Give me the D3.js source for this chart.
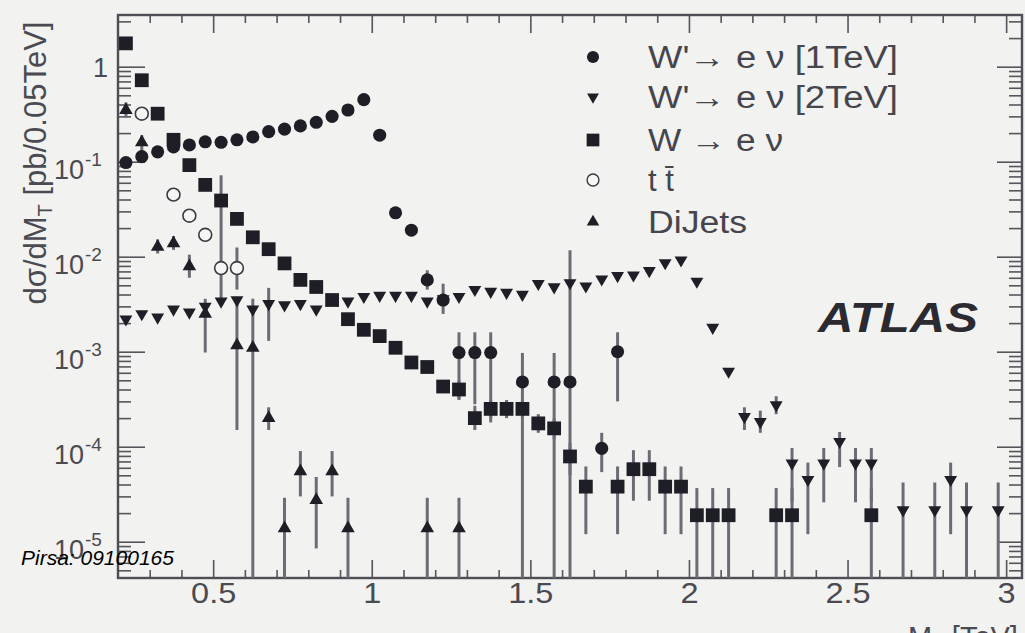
<!DOCTYPE html>
<html>
<head>
<meta charset="utf-8">
<script src="https://cdn.jsdelivr.net/npm/d3@7"></script>
<style>
  html, body { margin: 0; padding: 0; background: #f2f2f0; }
  svg { display: block; font-family: "Liberation Sans", Arial, sans-serif; }
</style>
</head>
<body>
<svg id="chart" width="1025" height="633"></svg>
<script>
// each point: [M_T in TeV, dsigma/dM_T, error low, error high]
// error low 0 means the bar runs down to the bottom of the frame
const wprime1 = [
  [0.225, 0.098], [0.275, 0.113], [0.325, 0.127], [0.375, 0.143], [0.425, 0.150],
  [0.475, 0.162], [0.525, 0.160], [0.575, 0.170], [0.625, 0.182], [0.675, 0.207],
  [0.725, 0.220], [0.775, 0.238], [0.825, 0.260], [0.875, 0.300], [0.925, 0.350],
  [0.975, 0.450], [1.025, 0.190], [1.075, 0.029], [1.125, 0.019],
  [1.175, 0.0057, 0.0045, 0.0072], [1.225, 0.0035, 0.0025, 0.0052],
  [1.275, 0.00098, 0.00031, 0.0016], [1.325, 0.00098, 0.00028, 0.0016], [1.375, 0.00098, 0.00018, 0.0016],
  [1.475, 0.00048, 0, 0.00097], [1.575, 0.00048, 0, 0.00097], [1.625, 0.00048, 0, 0.0117],
  [1.725, 0.000096, 0.000054, 0.00014], [1.775, 0.0010, 0.0003, 0.0016]
];

const wprime2 = [
  [0.225, 0.0022], [0.275, 0.0025], [0.325, 0.0023], [0.375, 0.0028], [0.425, 0.0026],
  [0.475, 0.0030], [0.525, 0.0034], [0.575, 0.0035], [0.625, 0.0028], [0.675, 0.0032, 0.0013, 0.0047],
  [0.725, 0.0031], [0.775, 0.0032], [0.825, 0.0028], [0.875, 0.00365], [0.925, 0.0034],
  [0.975, 0.0038], [1.025, 0.0039], [1.075, 0.0039], [1.125, 0.0039], [1.175, 0.0034],
  [1.225, 0.0036], [1.275, 0.0038], [1.325, 0.0045], [1.375, 0.0043], [1.425, 0.0042],
  [1.475, 0.0040], [1.525, 0.0052], [1.575, 0.0048], [1.625, 0.0053], [1.675, 0.0049],
  [1.725, 0.0058], [1.775, 0.0063], [1.825, 0.0064], [1.875, 0.0071], [1.925, 0.0086],
  [1.975, 0.0092], [2.025, 0.0055], [2.075, 0.0018], [2.125, 0.00062],
  [2.175, 0.000207, 0.00015, 0.00026], [2.225, 0.000183, 0.00014, 0.00024], [2.275, 0.000275, 0.00022, 0.00034],
  [2.325, 0.000067, 0.000026, 0.000097], [2.375, 0.000045, 0.000012, 0.000068],
  [2.425, 0.000067, 0.000026, 0.000097], [2.475, 0.000113, 0.000061, 0.000143],
  [2.525, 0.000067, 0.000026, 0.000097], [2.575, 0.000067, 0.000026, 0.000097],
  [2.675, 0.0000216, 0, 0.000042], [2.775, 0.0000216, 0, 0.000042],
  [2.825, 0.000045, 0.000012, 0.000068], [2.875, 0.0000216, 0, 0.000042],
  [2.975, 0.0000216, 0, 0.000042]
];

const wenu = [
  [0.225, 1.76], [0.275, 0.72], [0.325, 0.32], [0.375, 0.17], [0.425, 0.092],
  [0.475, 0.057], [0.525, 0.039], [0.575, 0.025], [0.625, 0.016], [0.675, 0.012],
  [0.725, 0.0085], [0.775, 0.0057], [0.825, 0.0048], [0.875, 0.0035], [0.925, 0.0022],
  [0.975, 0.0017], [1.025, 0.00146], [1.075, 0.0011], [1.125, 0.00077], [1.175, 0.00069],
  [1.225, 0.00043], [1.275, 0.00040, 0.00032, 0.0005], [1.325, 0.00020, 0.00015, 0.00027],
  [1.375, 0.00025, 0.0002, 0.00031], [1.425, 0.00025, 0.0002, 0.00031], [1.475, 0.00025, 0.0002, 0.00031],
  [1.525, 0.000176, 0.00014, 0.00022], [1.575, 0.000156, 0.00012, 0.0002], [1.625, 0.000079, 0.00005, 0.00011],
  [1.675, 0.000038, 0.000012, 0.000062], [1.775, 0.000038, 0.000012, 0.000062],
  [1.825, 0.000058, 0.000027, 0.000092], [1.875, 0.000058, 0.000027, 0.000092],
  [1.925, 0.000038, 0.000012, 0.000062], [1.975, 0.000038, 0.000012, 0.000062],
  [2.025, 0.000019, 0, 0.0000367], [2.075, 0.000019, 0, 0.0000367], [2.125, 0.000019, 0, 0.0000367],
  [2.275, 0.000019, 0, 0.0000367], [2.325, 0.000019, 0, 0.0000367], [2.575, 0.000019, 0, 0.0000367]
];

const ttbar = [
  [0.275, 0.32], [0.375, 0.045], [0.425, 0.027], [0.475, 0.017],
  [0.525, 0.0076, 0.0033, 0.072], [0.575, 0.0076, 0.0045, 0.0125]
];

const dijets = [
  [0.225, 0.35, 0.29, 0.42], [0.275, 0.16, 0.13, 0.19], [0.325, 0.0127, 0.0108, 0.0152],
  [0.375, 0.0138, 0.0118, 0.0165], [0.425, 0.0079, 0.006, 0.0105], [0.475, 0.0025, 0.00098, 0.0036],
  [0.575, 0.00117, 0.00015, 0.0036], [0.625, 0.0011, 0, 0.0036], [0.675, 0.0002, 0.00015, 0.00026],
  [0.725, 0.0000138, 0, 0.000029], [0.775, 0.000055, 0.00003, 0.00009], [0.825, 0.0000275, 0.0000085, 0.000048],
  [0.875, 0.000055, 0.00003, 0.00009], [0.925, 0.0000138, 0, 0.000029], [1.175, 0.0000138, 0, 0.000029],
  [1.275, 0.0000138, 0, 0.000029]
];

const seriesLabels = ["W'\u2192 e \u03bd [1TeV]", "W'\u2192 e \u03bd [2TeV]", "W \u2192 e \u03bd", "t t\u0304", "DiJets"];
const xTicks = [0.5, 1, 1.5, 2, 2.5, 3];
const xTickLabels = ["0.5", "1", "1.5", "2", "2.5", "3"];
const yTicks = [1, 0.1, 0.01, 0.001, 0.0001, 0.00001];
const yTickLabels = [["1", ""], ["10", "-1"], ["10", "-2"], ["10", "-3"], ["10", "-4"], ["10", "-5"]];

const ink = "#1e1e26";
const grey = "#55555c";

const svg = d3.select("#chart");
const root = svg.append("g");

const x = d3.scaleLinear().domain([0.2, 3.05]).range([118, 1022]);
const y = d3.scaleLog().domain([4.15e-6, 3.5]).range([578, 15]);
const [x0, x1] = x.range();
const [yb, yt] = y.range();

// minor ticks
const xMinor = d3.range(3, 31).map(i => i / 10).filter(v => Math.round(v * 10) % 5 !== 0);
const yMinor = [];
for (let e = -6; e <= 0; e++) {
  for (let m = 2; m <= 9; m++) {
    const v = m * Math.pow(10, e);
    if (v > y.domain()[0] && v < y.domain()[1]) yMinor.push(v);
  }
}

function styleAxis(g) {
  g.select(".domain").remove();
  g.selectAll(".tick line").attr("stroke", grey).attr("stroke-width", 1.6);
}

// bottom / top
root.append("g").attr("transform", `translate(0,${yb})`)
  .call(d3.axisBottom(x).tickValues(xMinor).tickSize(-8).tickFormat(""))
  .call(styleAxis);
const xAxis = root.append("g").attr("transform", `translate(0,${yb})`)
  .call(d3.axisBottom(x).tickValues(xTicks).tickSize(-18).tickPadding(4)
    .tickFormat((d, i) => xTickLabels[i]))
  .call(styleAxis);
xAxis.selectAll(".tick text")
  .attr("font-size", 29).attr("fill", "#4a4a52")
  .attr("font-family", "Liberation Sans, Arial, sans-serif")
  .attr("transform", "scale(1.12,1)");
root.append("g").attr("transform", `translate(0,${yt})`)
  .call(d3.axisTop(x).tickValues(xMinor).tickSize(-8).tickFormat(""))
  .call(styleAxis);
root.append("g").attr("transform", `translate(0,${yt})`)
  .call(d3.axisTop(x).tickValues(xTicks).tickSize(-18).tickFormat(""))
  .call(styleAxis);

// left / right
root.append("g").attr("transform", `translate(${x0},0)`)
  .call(d3.axisLeft(y).tickValues(yMinor).tickSize(-13).tickFormat(""))
  .call(styleAxis);
const yAxis = root.append("g").attr("transform", `translate(${x0},0)`)
  .call(d3.axisLeft(y).tickValues(yTicks).tickSize(-27).tickFormat(""))
  .call(styleAxis);
yAxis.selectAll(".tick").each(function (d, i) {
  const [base, exp] = yTickLabels[i];
  const t = d3.select(this);
  if (exp === "") {
    t.append("text").attr("x", -10).attr("y", 10).attr("text-anchor", "end")
      .attr("font-size", 27).attr("fill", "#4a4a52").text(base);
  } else {
    t.append("text").attr("x", -34).attr("y", 17).attr("text-anchor", "end")
      .attr("font-size", 27).attr("fill", "#4a4a52").text(base);
    t.append("text").attr("x", -33).attr("y", 4).attr("text-anchor", "start")
      .attr("font-size", 19).attr("fill", "#4a4a52").text(exp);
  }
});
root.append("g").attr("transform", `translate(${x1},0)`)
  .call(d3.axisRight(y).tickValues(yMinor).tickSize(-13).tickFormat(""))
  .call(styleAxis);
root.append("g").attr("transform", `translate(${x1},0)`)
  .call(d3.axisRight(y).tickValues(yTicks).tickSize(-25).tickFormat(""))
  .call(styleAxis);

// frame
root.append("rect")
  .attr("x", x0).attr("y", yt).attr("width", x1 - x0).attr("height", yb - yt)
  .attr("fill", "none").attr("stroke", "#4e4e56").attr("stroke-width", 2.4);

// series
const series = [
  { data: wenu, sym: d3.symbolSquare, size: 190, rot: 0, open: false },
  { data: wprime1, sym: d3.symbolCircle, size: 135, rot: 0, open: false },
  { data: wprime2, sym: d3.symbolTriangle, size: 72, rot: 180, open: false },
  { data: ttbar, sym: d3.symbolCircle, size: 130, rot: 0, open: true },
  { data: dijets, sym: d3.symbolTriangle, size: 80, rot: 0, open: false }
];

const errG = root.append("g");
series.forEach(s => {
  errG.selectAll(null)
    .data(s.data.filter(d => d.length > 2))
    .join("line")
    .attr("x1", d => x(d[0])).attr("x2", d => x(d[0]))
    .attr("y1", d => y(d[3]))
    .attr("y2", d => d[2] > 0 ? y(d[2]) : yb)
    .attr("stroke", "#6c6c76").attr("stroke-width", 3);
});

const markG = root.append("g");
series.forEach(s => {
  const gen = d3.symbol(s.sym, s.size);
  markG.selectAll(null)
    .data(s.data)
    .join("path")
    .attr("d", gen)
    .attr("transform", d => `translate(${x(d[0])},${y(d[1])}) rotate(${s.rot})`)
    .attr("fill", s.open ? "#f6f6f4" : ink)
    .attr("stroke", s.open ? "#3a3a42" : "none")
    .attr("stroke-width", 1.6);
});

// legend
const legendOrder = [1, 2, 0, 3, 4];
const legendY = [57, 97, 140, 180, 222];
const legendW = [250, 250, 135, null, 99];
legendOrder.forEach((si, i) => {
  const s = series[si];
  root.append("path")
    .attr("d", d3.symbol(s.sym, s.size * 0.85))
    .attr("transform", `translate(593,${legendY[i]}) rotate(${s.rot})`)
    .attr("fill", s.open ? "#f6f6f4" : ink)
    .attr("stroke", s.open ? "#3a3a42" : "none")
    .attr("stroke-width", 1.4);
  const t = root.append("text")
    .attr("x", 648).attr("y", legendY[i] + 11)
    .attr("font-size", 31).attr("fill", "#45454d")
    .text(seriesLabels[i]);
  if (legendW[i]) t.attr("textLength", legendW[i]).attr("lengthAdjust", "spacingAndGlyphs");
});

// ATLAS
root.append("text")
  .attr("x", 818).attr("y", 332)
  .attr("font-size", 42).attr("font-weight", "bold").attr("font-style", "italic")
  .attr("fill", "#2a2a30")
  .attr("textLength", 160).attr("lengthAdjust", "spacingAndGlyphs")
  .text("ATLAS");

// axis titles
const yTitle = root.append("text")
  .attr("transform", "translate(46,163) rotate(-90)")
  .attr("text-anchor", "middle")
  .attr("font-size", 31).attr("fill", "#4a4a52");
yTitle.append("tspan").text("d\u03c3/dM");
yTitle.append("tspan").attr("font-size", 20).attr("dy", 6).text("T");
yTitle.append("tspan").attr("dy", -6).text(" [pb/0.05TeV]");

const xTitle = root.append("text")
  .attr("x", 908).attr("y", 647)
  .attr("font-size", 29).attr("fill", "#4a4a52");
xTitle.append("tspan").text("M");
xTitle.append("tspan").attr("font-size", 19).attr("dy", 6).text("T");
xTitle.append("tspan").attr("dy", -6).text(" [TeV]");

// watermark
svg.append("text")
  .attr("x", 21).attr("y", 565)
  .attr("font-size", 21).attr("font-style", "italic").attr("fill", "#000")
  .text("Pirsa: 09100165");
</script>
</body>
</html>
